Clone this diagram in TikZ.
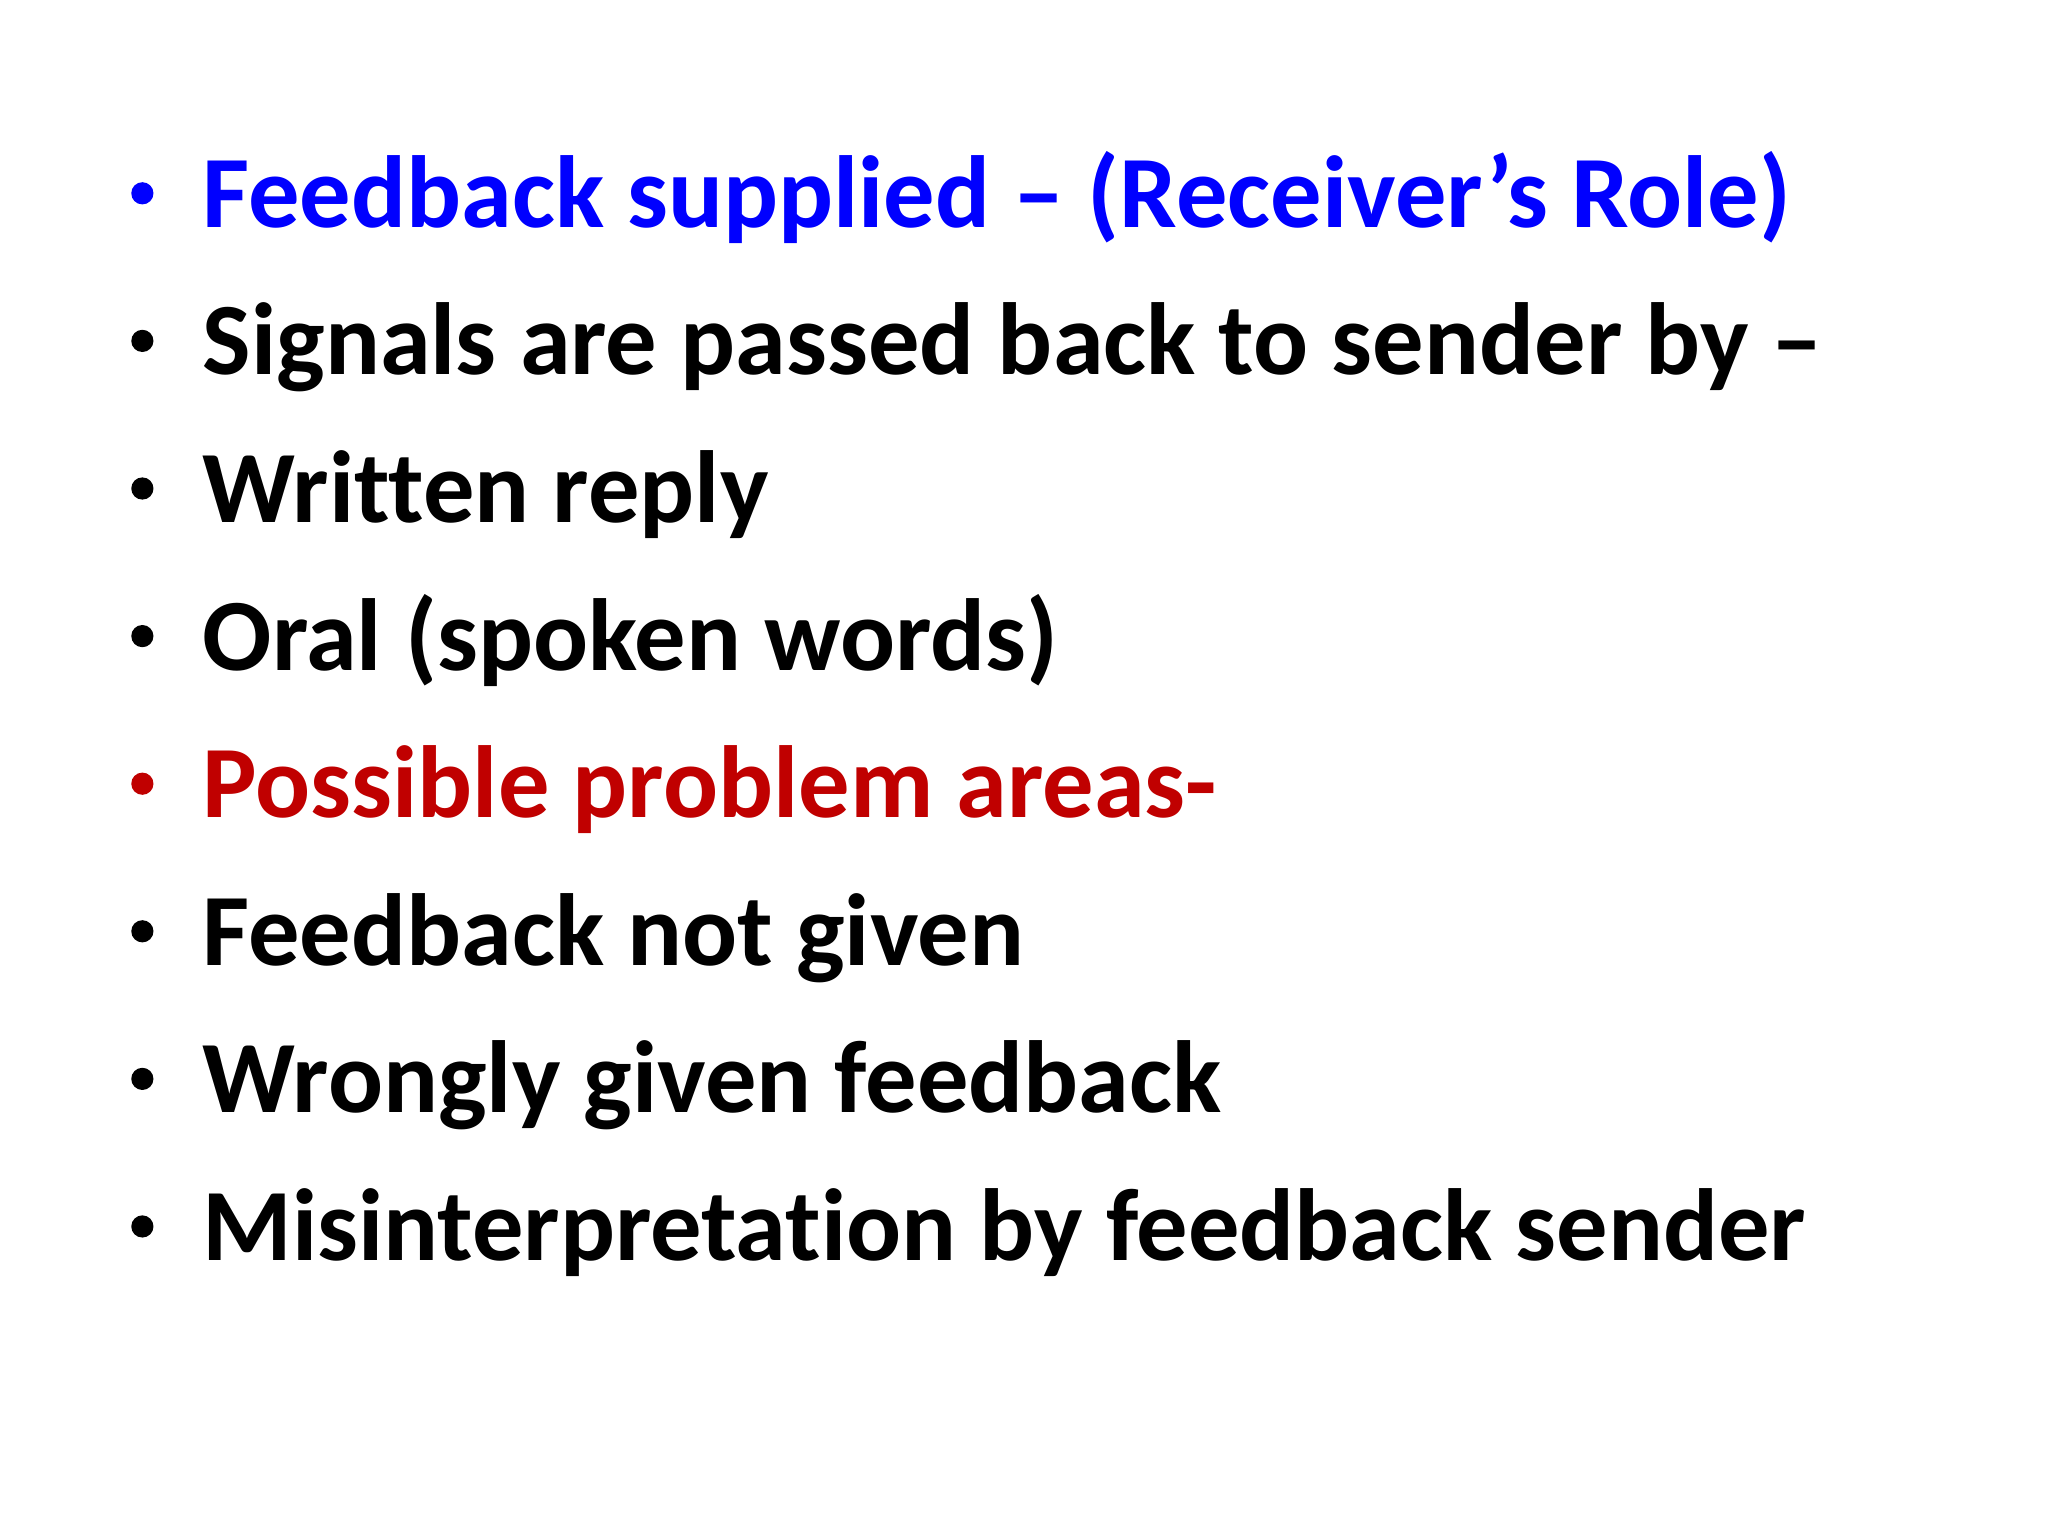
\documentclass[tikz,border=0pt]{standalone}
\usepackage{fontspec}
\setmainfont[RawFeature={-liga;-clig;-dlig}]{Carlito}
\definecolor{fbblue}{RGB}{0,0,255}
\definecolor{fbred}{RGB}{192,0,0}
\begin{document}
\begin{tikzpicture}[x=1pt,y=-1pt,
  item/.style={anchor=base west,inner sep=0pt,font=\fontsize{78.5}{90}\selectfont\bfseries},
  dot/.style={circle,inner sep=0pt,minimum size=17pt}]
\useasboundingbox[fill=white] (0,0) rectangle (1568,1176);
\foreach \t/\c [count=\i] in {{Feedback supplied – (Receiver’s Role)}/fbblue,
  {Signals are passed back to sender by –}/black,
  {Written reply}/black,
  {Oral (spoken words)}/black,
  {Possible problem areas-}/fbred,
  {Feedback not given}/black,
  {Wrongly given feedback}/black,
  {Misinterpretation by feedback sender}/black}{
  \node[dot,fill=\c] (b\i) at (109,{148+113*(\i-1)}) {};
  \node[item,text=\c] (t\i) at (155,{174+113*(\i-1)}) {\t};
}
\end{tikzpicture}
\end{document}
